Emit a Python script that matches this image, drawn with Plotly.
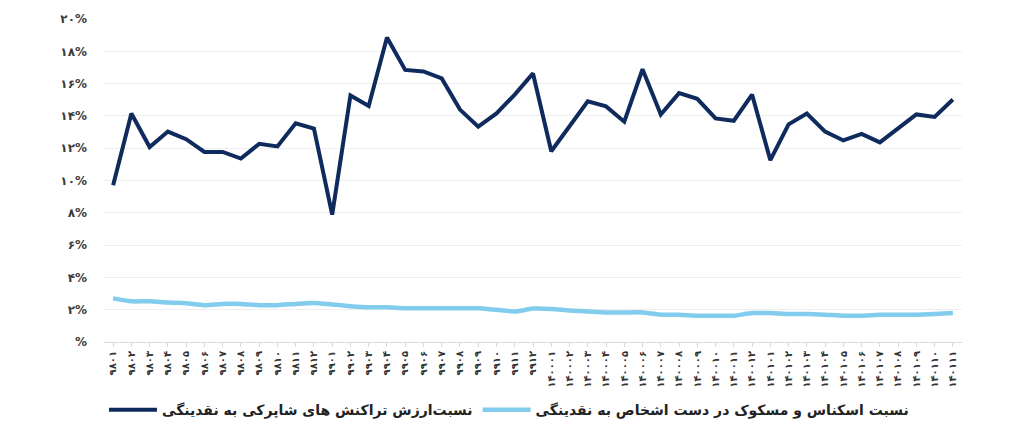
import plotly.graph_objects as go

months = [
    "۹۸۰۱", "۹۸۰۲", "۹۸۰۳", "۹۸۰۴", "۹۸۰۵", "۹۸۰۶", "۹۸۰۷", "۹۸۰۸", "۹۸۰۹", "۹۸۱۰", "۹۸۱۱", "۹۸۱۲",
    "۹۹۰۱", "۹۹۰۲", "۹۹۰۳", "۹۹۰۴", "۹۹۰۵", "۹۹۰۶", "۹۹۰۷", "۹۹۰۸", "۹۹۰۹", "۹۹۱۰", "۹۹۱۱", "۹۹۱۲",
    "۱۴۰۰۰۱", "۱۴۰۰۰۲", "۱۴۰۰۰۳", "۱۴۰۰۰۴", "۱۴۰۰۰۵", "۱۴۰۰۰۶", "۱۴۰۰۰۷", "۱۴۰۰۰۸", "۱۴۰۰۰۹", "۱۴۰۰۱۰", "۱۴۰۰۱۱", "۱۴۰۰۱۲",
    "۱۴۰۱۰۱", "۱۴۰۱۰۲", "۱۴۰۱۰۳", "۱۴۰۱۰۴", "۱۴۰۱۰۵", "۱۴۰۱۰۶", "۱۴۰۱۰۷", "۱۴۰۱۰۸", "۱۴۰۱۰۹", "۱۴۰۱۱۰", "۱۴۰۱۱۱",
]

shaparak_ratio = [
    9.7, 14.15, 12.07, 13.03, 12.56, 11.77, 11.77, 11.36, 12.27, 12.11, 13.54, 13.21,
    7.89, 15.26, 14.61, 18.86, 16.85, 16.75, 16.32, 14.39, 13.33, 14.15, 15.32, 16.63,
    11.81, 13.4, 14.9, 14.59, 13.64, 16.89, 14.09, 15.41, 15.06, 13.84, 13.7, 15.32,
    11.26, 13.48, 14.15, 13.03, 12.48, 12.89, 12.36, 13.23, 14.09, 13.94, 15.02,
]

cash_ratio = [
    2.70, 2.52, 2.52, 2.44, 2.40, 2.28, 2.36, 2.36, 2.28, 2.28, 2.36, 2.42,
    2.32, 2.22, 2.15, 2.15, 2.09, 2.09, 2.09, 2.09, 2.09, 1.99, 1.89, 2.07,
    2.05, 1.95, 1.89, 1.83, 1.83, 1.83, 1.69, 1.69, 1.63, 1.63, 1.63, 1.79,
    1.79, 1.73, 1.73, 1.69, 1.63, 1.63, 1.69, 1.69, 1.69, 1.73, 1.79,
]

y_tickvals = [0, 2, 4, 6, 8, 10, 12, 14, 16, 18, 20]
y_ticktext = ["%", "۲%", "۴%", "۶%", "۸%", "۱۰%", "۱۲%", "۱۴%", "۱۶%", "۱۸%", "۲۰%"]

name_shaparak = "نسبت‌ارزش تراکنش های شاپرکی به نقدینگی"
name_cash = "نسبت اسکناس و مسکوک در دست اشخاص به نقدینگی"

FONT = "DejaVu Sans"

fig = go.Figure()
fig.add_trace(go.Scatter(
    x=months, y=shaparak_ratio, mode="lines", name=name_shaparak,
    line=dict(color="#0f2a5c", width=4),
))
fig.add_trace(go.Scatter(
    x=months, y=cash_ratio, mode="lines", name=name_cash,
    line=dict(color="#82ccee", width=4.5, shape="spline", smoothing=0.6),
))

fig.update_layout(
    width=1024, height=438,
    margin=dict(l=104, r=62, t=15, b=96),
    paper_bgcolor="white", plot_bgcolor="white",
    font=dict(family=FONT, color="#3a3a3a"),
    showlegend=True,
    legend=dict(
        orientation="h", x=0.0, xanchor="left", y=-0.211, yanchor="middle",
        font=dict(family=FONT, size=14, color="#222222", weight="bold"),
        itemwidth=48, traceorder="normal",
    ),
)
fig.update_xaxes(
    type="category", range=[-0.5, len(months) - 0.5],
    showgrid=False, showline=True, linecolor="#d9d9d9", linewidth=1,
    ticks="outside", ticklen=4, tickcolor="#d9d9d9",
    tickangle=-90, tickfont=dict(family=FONT, size=10, color="#333333", weight="bold"),
)
fig.update_yaxes(
    range=[0, 20], tickvals=y_tickvals, ticktext=y_ticktext,
    showgrid=True, gridcolor="#eeeeee", gridwidth=1, zeroline=False,
    showline=False, ticks="", ticklabelstandoff=16,
    tickfont=dict(family=FONT, size=12, color="#3a3a3a", weight="bold"),
)

fig.write_html("out.html", config={"displayModeBar": False})
